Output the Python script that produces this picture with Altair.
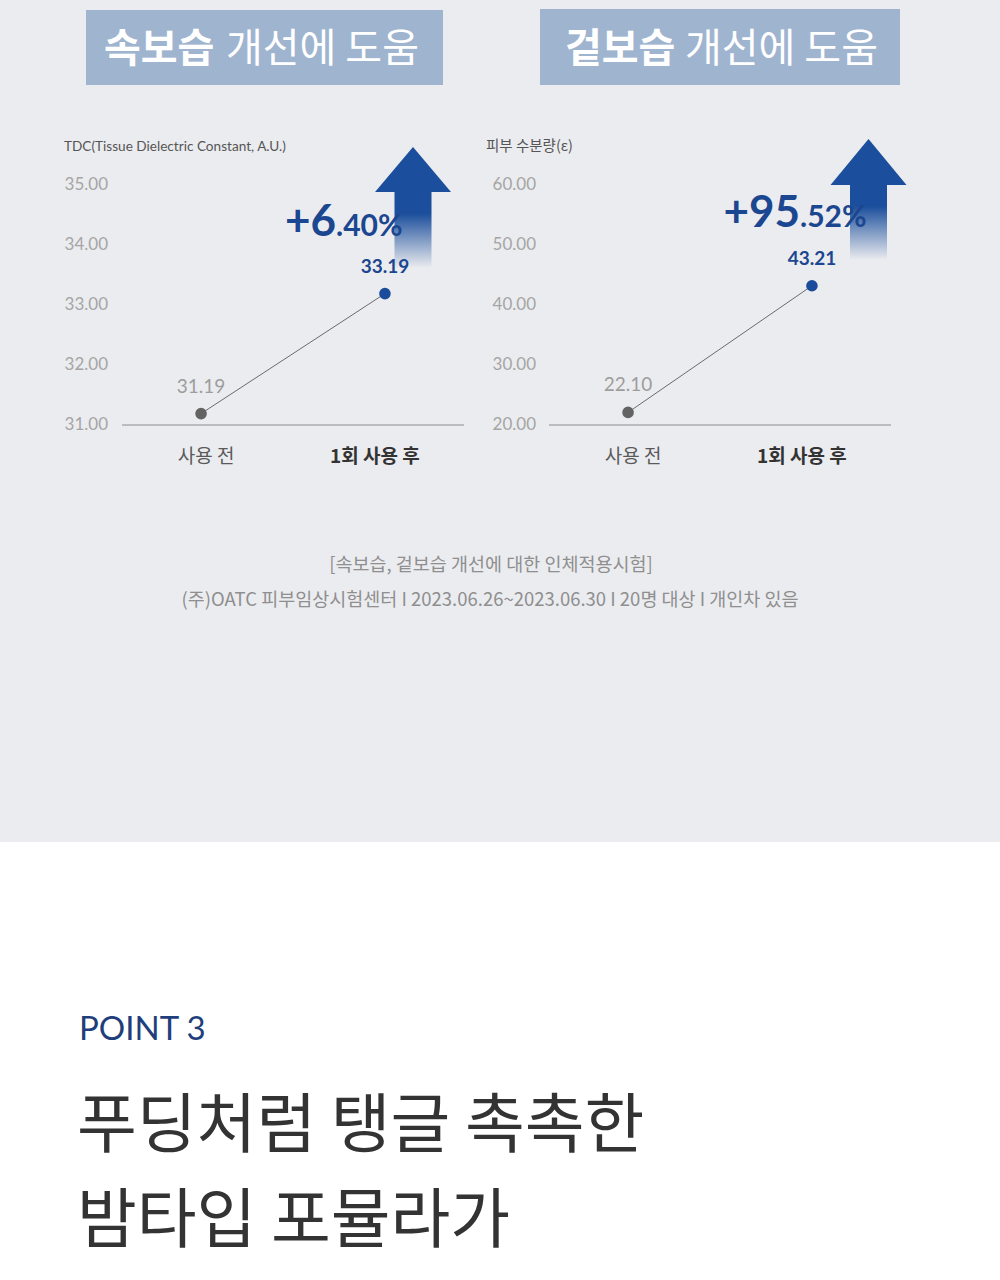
import altair as alt
import pandas as pd

# ---------------- data ----------------
categories = ["사용 전", "1회 사용 후"]
tdc_values = [31.19, 33.19]
moisture_values = [22.10, 43.21]
tdc_ticks = [31, 32, 33, 34, 35]
moisture_ticks = [20, 30, 40, 50, 60]
tdc_domain = [31, 35]
moisture_domain = [20, 60]

header_bold = ["속보습", "겉보습"]
header_regular = ["개선에 도움", "개선에 도움"]
axis_titles = ["TDC(Tissue Dielectric Constant, A.U.)", "피부 수분량(ε)"]
pct_big = ["+6", "+95"]
pct_small = [".40%", ".52%"]
footnotes = [
    "[속보습, 겉보습 개선에 대한 인체적용시험]",
    "(주)OATC 피부임상시험센터 I 2023.06.26~2023.06.30 I 20명 대상 I 개인차 있음",
]
point_label = "POINT 3"
headline = ["푸딩처럼 탱글 촉촉한", "밤타입 포뮬라가"]

# ---------------- style ----------------
KR = "Noto Sans CJK KR"
LAT = "Lato"
BG = "#ebecef"
NAVY = "#1b4e9c"
NAVY_TXT = "#1b4690"
HEADER_BG = "#9fb4cf"


def one(text):
    return pd.DataFrame({"t": [text]})


def txt(text, x, y, size, color, weight="normal", align="left",
        baseline="middle", font=KR):
    return alt.Chart(one(text)).mark_text(
        align=align, baseline=baseline, fontSize=size, font=font,
        fontWeight=weight, color=color
    ).encode(x=alt.value(x), y=alt.value(y), text="t:N")


def box(x0, x1, y0, y1, fill):
    return alt.Chart(one("")).mark_rect(fill=fill, stroke=None).encode(
        x=alt.value(x0), x2=alt.value(x1), y=alt.value(y0), y2=alt.value(y1))


def arrow(cx, apex, base, bottom, half_w=38, shaft_half=18.5):
    grad = alt.LinearGradient(
        gradient="linear",
        stops=[alt.GradientStop(offset=0, color=NAVY),
               alt.GradientStop(offset=0.3, color=NAVY),
               alt.GradientStop(offset=1, color=BG)],
        x1=0, x2=0, y1=0, y2=1)
    shaft = alt.Chart(one("")).mark_rect(fill=grad, stroke=None).encode(
        x=alt.value(cx - shaft_half), x2=alt.value(cx + shaft_half),
        y=alt.value(base - 2), y2=alt.value(bottom))
    h = base - apex
    hy = h / half_w / 2
    path = f"M0,{-hy}L1,{hy}L-1,{hy}Z"
    head = alt.Chart(one("")).mark_point(
        shape=path, size=(2 * half_w) ** 2, filled=True, opacity=1,
        fill=NAVY, strokeWidth=0
    ).encode(x=alt.value(cx), y=alt.value((apex + base) / 2))
    return [shaft, head]


def panel(values, ticks, domain, x0, x1, label_x):
    ys = alt.Scale(domain=domain, range=[425, 185], nice=False, zero=False)
    xs = alt.Scale(type="point", domain=categories, range=[x0, x1], padding=0.43)
    df = pd.DataFrame({"cat": categories, "val": values})
    tick_df = pd.DataFrame({"v": ticks})
    X = alt.X("cat:N", scale=xs, axis=None)
    Y = alt.Y("val:Q", scale=ys, axis=None)
    layers = []
    layers.append(alt.Chart(tick_df).mark_text(
        align="right", baseline="middle", font=LAT, fontSize=17,
        color="#a5a5a5").encode(
        x=alt.value(label_x), y=alt.Y("v:Q", scale=ys, axis=None),
        text=alt.Text("v:Q", format=".2f")))
    layers.append(alt.Chart(pd.DataFrame({"v": [domain[0]]})).mark_rule(
        color="#8c8c8c", strokeWidth=1).encode(
        x=alt.value(x0), x2=alt.value(x1),
        y=alt.Y("v:Q", scale=ys, axis=None)))
    layers.append(alt.Chart(df).mark_line(color="#6b6b6b", strokeWidth=1)
                  .encode(x=X, y=Y))
    layers.append(alt.Chart(df).mark_circle(size=135, opacity=1).encode(
        x=X, y=Y,
        color=alt.Color("cat:N", scale=alt.Scale(domain=categories,
                        range=["#636363", "#1b4b9b"]), legend=None)))
    layers.append(alt.Chart(df).transform_filter(
        alt.datum.cat == categories[0]).mark_text(
        dy=-27, font=LAT, fontSize=19, color="#9d9d9d", baseline="middle"
    ).encode(x=X, y=Y, text=alt.Text("val:Q", format=".2f")))
    layers.append(alt.Chart(df).transform_filter(
        alt.datum.cat == categories[1]).mark_text(
        dy=-27, font=LAT, fontSize=19, fontWeight="bold", color=NAVY_TXT,
        baseline="middle"
    ).encode(x=X, y=Y, text=alt.Text("val:Q", format=".2f")))
    layers.append(alt.Chart(df).transform_filter(
        alt.datum.cat == categories[0]).mark_text(
        dx=5, font=KR, fontSize=19, color="#5a5a5a", baseline="middle"
    ).encode(x=X, y=alt.value(457), text="cat:N"))
    layers.append(alt.Chart(df).transform_filter(
        alt.datum.cat == categories[1]).mark_text(
        dx=-10, font=KR, fontSize=19, fontWeight="bold", color="#333333",
        baseline="middle"
    ).encode(x=X, y=alt.value(457), text="cat:N"))
    return layers


layers = []
# backgrounds
layers.append(box(0, 1000, 0, 842, BG))
# headers
layers.append(box(86, 443, 10, 85, HEADER_BG))
layers.append(box(540, 900, 9, 85, HEADER_BG))
layers.append(txt(header_bold[0], 104, 50, 40, "white", weight="bold"))
layers.append(txt(header_regular[0], 226, 50, 40, "white"))
layers.append(txt(header_bold[1], 565, 50, 40, "white", weight="bold"))
layers.append(txt(header_regular[1], 685, 50, 40, "white"))
# axis titles
layers.append(txt(axis_titles[0], 64, 147, 13.6, "#555555", font=LAT))
layers.append(txt(axis_titles[1], 486, 147, 14.5, "#555555"))
# arrows
layers += arrow(413, 147, 192, 268)
layers += arrow(868.5, 139, 185, 260)
# panels
layers += panel(tdc_values, tdc_ticks, tdc_domain, 122, 464, 108)
layers += panel(moisture_values, moisture_ticks, moisture_domain, 549, 891, 536)
# percent texts
layers.append(txt(pct_big[0], 336, 236, 44, NAVY_TXT, weight="bold",
                  align="right", baseline="alphabetic", font=LAT))
layers.append(txt(pct_small[0], 336, 236, 30, NAVY_TXT, weight="bold",
                  baseline="alphabetic", font=LAT))
layers.append(txt(pct_big[1], 800, 227, 44, NAVY_TXT, weight="bold",
                  align="right", baseline="alphabetic", font=LAT))
layers.append(txt(pct_small[1], 800, 227, 30, NAVY_TXT, weight="bold",
                  baseline="alphabetic", font=LAT))
# footnotes
layers.append(txt(footnotes[0], 491, 565, 18.5, "#8f8f8f", align="center"))
layers.append(txt(footnotes[1], 490, 600, 18.5, "#8f8f8f", align="center"))
# lower section
layers.append(txt(point_label, 79, 1030, 33, "#1f3f7c", font=LAT))
layers.append(txt(headline[0], 77, 1147, 65, "#333333", baseline="alphabetic"))
layers.append(txt(headline[1], 77, 1242, 65, "#333333", baseline="alphabetic"))

chart = alt.layer(*layers).resolve_scale(
    x="independent", y="independent", color="independent"
).properties(
    width=1000, height=1280,
    autosize=alt.AutoSizeParams(type="none"),
    padding=0, background="white"
).configure_view(stroke=None)

chart.save("out.html", embed_options={"renderer": "svg", "actions": False})
